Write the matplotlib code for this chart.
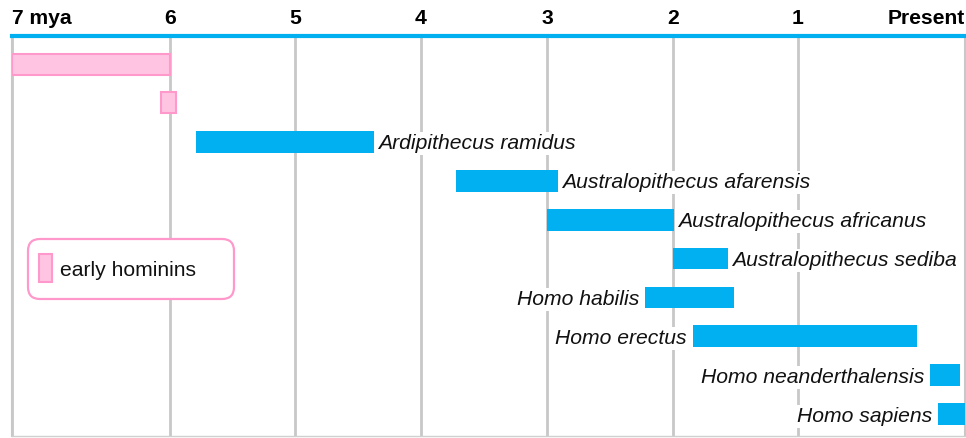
import numpy as np
import matplotlib
matplotlib.use("Agg")
import matplotlib.pyplot as plt
from matplotlib.patches import FancyBboxPatch, Rectangle

plt.rcParams['font.family'] = ['Liberation Sans', 'DejaVu Sans']

# time axis: million years ago, and where each tick sits along the timeline
tick_mya = [7, 6, 5, 4, 3, 2, 1, 0]
tick_pos = [12, 170, 295, 421, 547, 673, 798, 965]
tick_labels = ['7 mya', '6', '5', '4', '3', '2', '1', 'Present']

# species ranges (mya)
names = ['', '', 'Ardipithecus ramidus', 'Australopithecus afarensis',
         'Australopithecus africanus', 'Australopithecus sediba',
         'Homo habilis', 'Homo erectus', 'Homo neanderthalensis', 'Homo sapiens']
start_mya = [7.0, 6.06, 5.79, 3.72, 3.0, 2.0, 2.22, 1.84, 0.21, 0.16]
end_mya = [6.0, 5.95, 4.37, 2.91, 1.99, 1.56, 1.51, 0.29, 0.03, 0.0]
early = [True, True, False, False, False, False, False, False, False, False]
label_side = ['', '', 'right', 'right', 'right', 'right', 'left', 'left', 'left', 'left']

BLUE = '#00b0f0'
PINK_FILL = '#ffc4e1'
PINK_EDGE = '#ff99cc'
GRID = '#c8c8c8'
FS = 15.2

# piecewise timeline scale (increasing in mya, axis inverted below)
mya_asc = np.array(tick_mya[::-1], dtype=float)
neg_pos = -np.array(tick_pos[::-1], dtype=float)


def fwd(x):
    return np.interp(x, mya_asc, neg_pos)


def inv(p):
    return np.interp(p, neg_pos, mya_asc)


fig = plt.figure(figsize=(9.66, 4.38), dpi=100)
ax = fig.add_axes([12 / 966, 2 / 438, 953 / 966, 400 / 438])
ax.set_xscale('function', functions=(fwd, inv))
ax.set_xlim(7, 0)

rows = np.arange(len(names))
ax.set_ylim(9.56, -0.72)

for i in rows:
    left = min(start_mya[i], end_mya[i])
    width = abs(start_mya[i] - end_mya[i])
    if early[i]:
        ax.barh(i, width, left=left, height=0.54, color=PINK_FILL,
                edgecolor=PINK_EDGE, linewidth=1.5, zorder=3)
    else:
        ax.barh(i, width, left=left, height=0.56, color=BLUE,
                edgecolor='none', zorder=3)
    if label_side[i] == 'right':
        ax.annotate(names[i], xy=(end_mya[i], i), xytext=(4, 0),
                    textcoords='offset pixels', ha='left', va='center_baseline',
                    fontsize=FS, style='italic', color='#111111', zorder=4,
                    bbox=dict(boxstyle='square,pad=0.1', fc='white', ec='none'))
    elif label_side[i] == 'left':
        ax.annotate(names[i], xy=(start_mya[i], i), xytext=(-6, 0),
                    textcoords='offset pixels', ha='right', va='center_baseline',
                    fontsize=FS, style='italic', color='#111111', zorder=4,
                    bbox=dict(boxstyle='square,pad=0.1', fc='white', ec='none'))

ax.set_xticks(tick_mya)
ax.set_xticklabels(tick_labels, fontsize=FS, fontweight='bold')
ax.xaxis.tick_top()
ax.tick_params(axis='x', length=0, pad=6)
labs = ax.get_xticklabels()
labs[0].set_ha('left')
labs[-1].set_ha('right')
ax.set_yticks([])
ax.grid(axis='x', color=GRID, linewidth=2, zorder=1)
ax.set_axisbelow(True)

ax.spines['top'].set_color(BLUE)
ax.spines['top'].set_linewidth(3)
ax.spines['top'].set_zorder(5)
for s in ['left', 'right']:
    ax.spines[s].set_color(GRID)
    ax.spines[s].set_linewidth(1.5)
ax.spines['bottom'].set_color('#d0d0d0')
ax.spines['bottom'].set_linewidth(1)

# legend box
tr = fig.dpi_scale_trans
box = FancyBboxPatch((0.28, 1.39), 2.06, 0.60,
                     boxstyle='round,pad=0,rounding_size=0.12',
                     transform=tr, fc='white', ec=PINK_EDGE, lw=1.6, zorder=6)
fig.add_artist(box)
fig.add_artist(Rectangle((0.385, 1.56), 0.135, 0.28, transform=tr,
                         fc=PINK_FILL, ec=PINK_EDGE, lw=1.5, zorder=7))
fig.text(0.60, 1.69, 'early hominins', transform=tr, fontsize=FS,
         va='center_baseline', ha='left', color='#111111', zorder=7)

fig.savefig('out.png', dpi=100)
